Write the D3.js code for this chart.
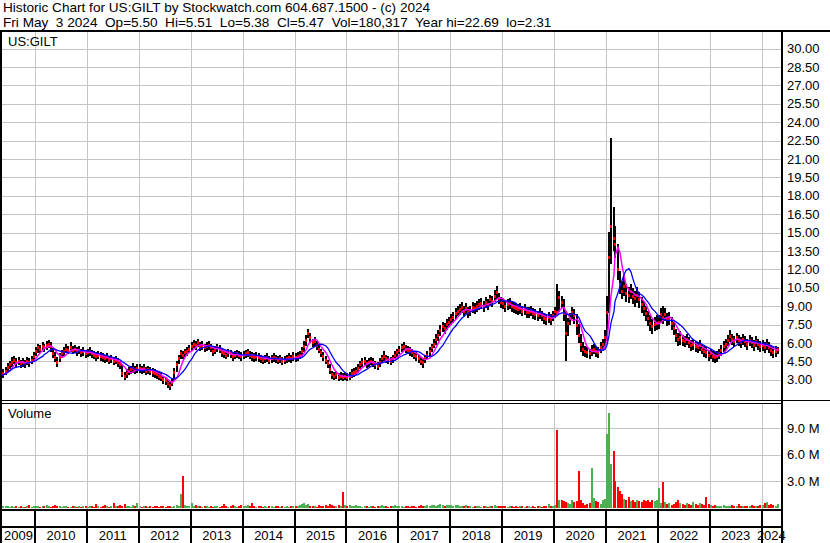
<!DOCTYPE html>
<html>
<head>
<meta charset="utf-8">
<script src="https://cdn.jsdelivr.net/npm/d3@7"></script>
<style>
body { margin: 0; background: #fff; }
svg { display: block; font-family: "Liberation Sans", Arial, sans-serif; }
</style>
</head>
<body>
<svg id="chart" width="830" height="543"></svg>
<script>
"use strict";

// semi-monthly bars: first half starts on the 1st, second half on the 16th (May 2009 .. Apr 2024)
var firstYear = 2009, firstMonth = 4;

var closes = [
    3.3, 3.5, 3.7, 4.0, 4.2, 4.4, 4.6, 4.4, 4.5, 4.3, 4.4, 4.3, 4.5, 4.4, 4.6, 4.9,
    5.3, 5.6, 5.5, 5.7, 5.6, 5.8, 5.9, 5.7, 5.1, 4.8, 4.4, 4.8, 5.1, 5.3, 5.5, 5.4, 5.6, 5.4, 5.5, 5.3, 5.4, 5.2, 5.3, 5.1,
    5.2, 5.3, 5.1, 5.0, 4.9, 5.0, 4.9, 4.8, 4.7, 4.8, 4.6, 4.7, 4.5, 4.6, 4.4, 4.2, 3.5, 3.3, 3.5, 3.7, 3.8, 3.9, 3.8, 3.9,
    3.9, 3.8, 3.9, 3.7, 3.8, 3.7, 3.6, 3.5, 3.4, 3.3, 3.2, 3.0, 2.9, 2.7, 2.5, 2.8, 3.6, 4.2, 4.7, 5.1, 5.0, 5.2, 5.3, 5.5,
    5.7, 5.9, 5.8, 6.0, 5.7, 5.8, 5.6, 5.7, 5.8, 5.6, 5.3, 5.4, 5.6, 5.5, 5.2, 5.1, 5.0, 5.2, 5.1, 4.9, 5.0, 5.1, 5.0, 4.9,
    5.0, 5.1, 5.2, 5.0, 4.9, 4.8, 4.9, 4.8, 4.7, 4.6, 4.7, 4.8, 4.6, 4.7, 4.8, 4.7, 4.6, 4.7, 4.5, 4.6, 4.7, 4.8, 4.7, 4.9,
    4.8, 4.9, 5.0, 5.3, 5.7, 6.2, 6.8, 6.4, 6.0, 6.1, 5.8, 5.5, 5.2, 4.9, 4.6, 4.3, 3.8, 3.4, 3.3, 3.4, 3.2, 3.3, 3.2, 3.3,
    3.2, 3.3, 3.5, 3.6, 3.7, 3.9, 4.2, 4.4, 4.5, 4.3, 4.4, 4.5, 4.4, 4.2, 4.1, 4.4, 4.7, 4.9, 4.7, 4.6, 4.5, 4.7, 5.0, 5.2,
    5.4, 5.6, 5.7, 5.5, 5.4, 5.3, 5.2, 5.0, 4.9, 4.7, 4.5, 4.4, 4.7, 5.0, 5.3, 5.6, 5.9, 6.3, 6.6, 7.0, 7.3, 7.2, 7.5, 7.7,
    7.9, 8.1, 8.4, 8.6, 8.7, 8.9, 8.6, 8.8, 8.5, 8.6, 8.9, 8.8, 9.0, 9.1, 9.2, 9.0, 9.3, 9.1, 9.5, 9.4, 9.8, 10.1, 9.6, 9.3,
    9.2, 9.0, 9.1, 9.2, 9.0, 8.9, 8.8, 8.7, 8.8, 8.6, 8.7, 8.5, 8.5, 8.6, 8.4, 8.3, 8.2, 8.4, 8.2, 8.0, 7.9, 8.1, 7.9, 8.2,
    8.6, 8.5, 9.7, 9.3, 8.4, 6.8, 7.6, 8.0, 8.5, 8.2, 7.4, 6.6, 5.9, 5.5, 5.3, 5.2, 5.1, 5.4, 5.5, 5.3, 5.2, 5.6, 5.9, 6.4,
    8.5, 13.0, 15.5, 14.5, 14.0, 12.0, 10.8, 10.2, 10.6, 10.0, 9.9, 10.2, 9.8, 9.6, 9.9, 9.5, 9.1, 8.8, 8.4, 8.0, 7.6, 7.3, 7.5, 7.6,
    7.7, 8.3, 8.1, 8.3, 7.9, 8.0, 7.6, 7.2, 6.6, 6.3, 6.4, 6.2, 6.1, 6.3, 6.0, 5.8, 5.9, 5.7, 5.6, 5.8, 5.5, 5.3, 5.2, 5.0,
    5.1, 4.9, 4.8, 4.9, 5.1, 5.4, 5.7, 5.9, 6.2, 6.5, 6.3, 6.1, 6.4, 6.2, 6.0, 6.3, 6.1, 5.9, 6.2, 6.0, 5.8, 6.1, 5.9, 5.7,
    5.8, 5.6, 5.9, 5.6, 5.4, 5.2, 5.3, 5.47
];

var highs = [
    3.6, 3.8, 4.0, 4.3, 4.5, 4.8, 4.9, 4.7, 4.8, 4.6, 4.7, 4.6, 4.8, 4.7, 4.9, 5.2,
    5.6, 5.9, 5.8, 6.0, 5.9, 6.1, 6.2, 6.0, 5.6, 5.2, 4.8, 5.1, 5.4, 5.6, 5.9, 5.7, 6.0, 5.7, 5.8, 5.6, 5.7, 5.5, 5.6, 5.4,
    5.5, 5.6, 5.4, 5.3, 5.2, 5.3, 5.2, 5.1, 5.0, 5.1, 4.9, 5.0, 4.8, 4.9, 4.7, 4.5, 4.2, 3.6, 3.8, 4.0, 4.1, 4.3, 4.1, 4.2,
    4.2, 4.1, 4.2, 4.0, 4.1, 4.0, 3.9, 3.8, 3.7, 3.6, 3.5, 3.3, 3.2, 3.0, 2.8, 3.1, 3.9, 4.5, 5.0, 5.4, 5.3, 5.5, 5.6, 5.8,
    6.0, 6.2, 6.1, 6.3, 6.0, 6.1, 5.9, 6.0, 6.1, 5.9, 5.6, 5.7, 5.9, 5.8, 5.5, 5.4, 5.3, 5.5, 5.4, 5.2, 5.3, 5.4, 5.3, 5.2,
    5.3, 5.4, 5.5, 5.3, 5.2, 5.1, 5.2, 5.1, 5.0, 4.9, 5.0, 5.1, 4.9, 5.0, 5.1, 5.0, 4.9, 5.0, 4.8, 4.9, 5.0, 5.1, 5.0, 5.2,
    5.1, 5.2, 5.3, 5.6, 6.1, 6.6, 7.1, 6.8, 6.3, 6.4, 6.1, 5.8, 5.5, 5.2, 4.9, 4.6, 4.2, 3.7, 3.6, 3.7, 3.5, 3.6, 3.5, 3.6,
    3.5, 3.6, 3.8, 3.9, 4.0, 4.2, 4.5, 4.7, 4.8, 4.6, 4.7, 4.8, 4.7, 4.5, 4.4, 4.7, 5.0, 5.3, 5.0, 4.9, 4.8, 5.0, 5.3, 5.5,
    5.7, 5.9, 6.0, 5.8, 5.7, 5.6, 5.5, 5.3, 5.2, 5.0, 4.8, 4.7, 5.0, 5.3, 5.6, 5.9, 6.3, 6.7, 7.0, 7.4, 7.7, 7.6, 7.9, 8.1,
    8.3, 8.5, 8.8, 9.0, 9.1, 9.3, 9.0, 9.2, 8.9, 9.0, 9.3, 9.2, 9.4, 9.5, 9.6, 9.4, 9.7, 9.5, 9.9, 9.8, 10.3, 10.6, 10.0, 9.7,
    9.6, 9.4, 9.5, 9.6, 9.4, 9.3, 9.2, 9.1, 9.2, 9.0, 9.1, 8.9, 8.9, 9.0, 8.8, 8.7, 8.6, 8.8, 8.6, 8.4, 8.3, 8.5, 8.3, 8.6,
    8.9, 10.75, 10.2, 9.8, 9.5, 8.6, 8.0, 8.4, 8.9, 8.7, 8.3, 7.5, 6.7, 6.0, 5.7, 5.6, 5.5, 5.8, 5.9, 5.7, 5.6, 6.0, 6.3, 7.0,
    9.8, 15.0, 22.69, 17.0, 15.5, 14.0, 11.8, 11.0, 11.4, 10.8, 10.5, 10.8, 10.4, 10.2, 10.5, 10.1, 9.7, 9.4, 9.0, 8.6, 8.2, 7.9, 8.1, 8.2,
    8.2, 8.8, 9.0, 8.8, 8.4, 8.5, 8.1, 7.7, 7.1, 6.8, 6.9, 6.6, 6.5, 6.7, 6.4, 6.2, 6.3, 6.1, 6.0, 6.2, 5.9, 5.7, 5.6, 5.4,
    5.5, 5.3, 5.2, 5.3, 5.5, 5.8, 6.1, 6.3, 6.6, 7.0, 6.7, 6.5, 6.8, 6.6, 6.4, 6.7, 6.5, 6.3, 6.6, 6.4, 6.2, 6.5, 6.3, 6.1,
    6.2, 6.0, 6.3, 6.0, 5.8, 5.6, 5.7, 5.6
];

var lows = [
    3.0, 3.2, 3.4, 3.7, 3.9, 4.1, 4.3, 4.1, 4.2, 4.0, 4.1, 4.0, 4.2, 4.1, 4.3, 4.5,
    5.0, 5.2, 5.2, 5.4, 5.3, 5.5, 5.6, 5.3, 4.8, 4.5, 4.1, 4.5, 4.8, 5.0, 5.2, 5.1, 5.3, 5.1, 5.2, 5.0, 5.1, 4.9, 5.0, 4.8,
    4.9, 5.0, 4.8, 4.7, 4.6, 4.7, 4.6, 4.5, 4.4, 4.5, 4.3, 4.4, 4.2, 4.3, 4.1, 3.9, 3.3, 3.0, 3.2, 3.4, 3.5, 3.6, 3.5, 3.6,
    3.6, 3.5, 3.6, 3.4, 3.5, 3.4, 3.3, 3.2, 3.1, 3.0, 2.9, 2.7, 2.6, 2.4, 2.2, 2.5, 2.9, 3.7, 4.3, 4.7, 4.7, 4.9, 5.0, 5.2,
    5.4, 5.6, 5.5, 5.7, 5.4, 5.5, 5.3, 5.4, 5.5, 5.3, 5.0, 5.1, 5.3, 5.2, 4.9, 4.8, 4.7, 4.9, 4.8, 4.6, 4.7, 4.8, 4.7, 4.6,
    4.7, 4.8, 4.9, 4.7, 4.6, 4.5, 4.6, 4.5, 4.4, 4.3, 4.4, 4.5, 4.3, 4.4, 4.5, 4.4, 4.3, 4.4, 4.2, 4.3, 4.4, 4.5, 4.4, 4.6,
    4.5, 4.6, 4.7, 5.0, 5.3, 5.8, 6.4, 6.0, 5.7, 5.8, 5.5, 5.2, 4.9, 4.6, 4.3, 4.0, 3.5, 3.1, 3.0, 3.1, 2.9, 3.0, 2.9, 3.0,
    2.9, 3.0, 3.2, 3.3, 3.4, 3.6, 3.9, 4.1, 4.2, 4.0, 4.1, 4.2, 4.1, 3.9, 3.8, 4.1, 4.4, 4.6, 4.4, 4.3, 4.2, 4.4, 4.7, 4.9,
    5.1, 5.3, 5.4, 5.2, 5.1, 5.0, 4.9, 4.7, 4.6, 4.4, 4.2, 4.0, 4.4, 4.7, 5.0, 5.3, 5.6, 5.9, 6.2, 6.6, 6.9, 6.8, 7.1, 7.3,
    7.5, 7.7, 8.0, 8.2, 8.3, 8.5, 8.2, 8.4, 8.1, 8.2, 8.5, 8.4, 8.6, 8.7, 8.8, 8.6, 8.9, 8.7, 9.1, 9.0, 9.4, 9.6, 9.2, 8.9,
    8.8, 8.6, 8.7, 8.8, 8.6, 8.5, 8.4, 8.3, 8.4, 8.2, 8.3, 8.1, 8.1, 8.2, 8.0, 7.9, 7.8, 8.0, 7.8, 7.6, 7.5, 7.7, 7.5, 7.8,
    8.1, 8.2, 8.6, 8.9, 7.8, 4.6, 6.6, 7.5, 8.0, 7.6, 6.7, 6.0, 5.3, 5.0, 4.9, 4.8, 4.7, 5.0, 5.1, 4.9, 4.8, 5.2, 5.5, 5.8,
    6.2, 8.5, 12.5, 13.5, 13.0, 11.2, 10.0, 9.6, 9.9, 9.4, 9.3, 9.6, 9.2, 9.0, 9.3, 8.9, 8.5, 8.2, 7.8, 7.4, 7.0, 6.8, 7.0, 7.1,
    7.2, 7.7, 7.6, 7.8, 7.4, 7.5, 7.1, 6.7, 6.1, 5.8, 5.9, 5.8, 5.7, 5.9, 5.6, 5.4, 5.5, 5.3, 5.2, 5.4, 5.1, 4.9, 4.8, 4.6,
    4.7, 4.5, 4.4, 4.5, 4.7, 5.0, 5.3, 5.5, 5.8, 6.1, 5.9, 5.7, 6.0, 5.8, 5.6, 5.9, 5.7, 5.5, 5.8, 5.6, 5.4, 5.7, 5.5, 5.3,
    5.4, 5.2, 5.5, 5.2, 5.0, 4.8, 4.9, 5.1
];

// millions of shares per bar
var volumes = [
    0.3, 0.2, 0.15, 0.2, 0.1, 0.15, 0.1, 0.2, 0.1, 0.15, 0.1, 0.1, 0.15, 0.3, 0.1, 0.15,
    0.2, 0.15, 0.1, 0.2, 0.15, 0.3, 0.2, 0.1, 0.15, 0.3, 0.2, 0.15, 0.1, 0.15, 0.2, 0.1, 0.1, 0.15, 0.2, 0.1, 0.15, 0.1, 0.2, 0.15,
    0.1, 0.15, 0.2, 0.1, 0.4, 0.15, 0.1, 0.2, 0.3, 0.15, 0.1, 0.2, 0.5, 0.2, 0.15, 0.3, 0.2, 0.35, 0.15, 0.2, 0.1, 0.3, 0.15, 0.5,
    0.2, 0.1, 0.15, 0.2, 0.1, 0.15, 0.1, 0.2, 0.15, 0.1, 0.2, 0.15, 0.1, 0.2, 0.15, 0.1, 0.2, 0.3, 0.2, 1.5, 3.6, 0.3, 0.2, 0.15,
    0.5, 0.2, 0.3, 0.15, 0.2, 0.1, 0.15, 0.2, 0.1, 0.15, 0.1, 0.2, 0.15, 0.1, 0.2, 0.45, 0.15, 0.1, 0.2, 0.3, 0.15, 0.1, 0.2, 0.3,
    0.15, 0.2, 0.3, 0.15, 0.5, 0.2, 0.1, 0.15, 0.2, 0.1, 0.15, 0.1, 0.2, 0.15, 0.1, 0.2, 0.15, 0.1, 0.2, 0.1, 0.15, 0.1, 0.2, 0.15,
    0.2, 0.15, 0.3, 0.4, 0.5, 0.3, 0.4, 0.2, 0.15, 0.2, 0.1, 0.3, 0.2, 0.15, 0.3, 0.2, 0.4, 0.3, 0.2, 0.15, 0.3, 0.2, 1.8, 0.3,
    0.2, 0.3, 0.15, 0.2, 0.3, 0.15, 0.2, 0.1, 0.15, 0.2, 0.1, 0.15, 0.2, 0.1, 0.15, 0.2, 0.3, 0.2, 0.15, 0.1, 0.2, 0.15, 0.3, 0.2,
    0.2, 0.15, 0.1, 0.2, 0.15, 0.1, 0.2, 0.15, 0.1, 0.2, 0.3, 0.15, 0.2, 0.3, 0.2, 0.25, 0.3, 0.2, 0.3, 0.4, 0.3, 0.2, 0.3, 0.25,
    0.3, 0.2, 0.25, 0.3, 0.2, 0.15, 0.2, 0.25, 0.15, 0.2, 0.1, 0.2, 0.15, 0.2, 0.1, 0.15, 0.2, 0.1, 0.15, 0.2, 0.3, 0.2, 0.15, 0.2,
    0.15, 0.2, 0.1, 0.15, 0.2, 0.1, 0.15, 0.1, 0.2, 0.15, 0.1, 0.15, 0.2, 0.1, 0.15, 0.1, 0.2, 0.15, 0.1, 0.15, 0.2, 0.4, 0.2, 0.15,
    0.3, 8.8, 0.8, 0.8, 0.7, 0.6, 0.5, 0.4, 0.9, 0.6, 0.7, 4.2, 0.8, 0.5, 0.3, 0.4, 0.5, 4.5, 1.1, 0.7, 0.6, 0.4, 0.8, 1.0,
    8.4, 10.75, 5.0, 6.4, 3.0, 2.3, 1.9, 1.5, 1.0, 0.8, 1.2, 0.7, 0.9, 0.6, 0.8, 0.7, 0.6, 0.8, 0.7, 0.9, 0.6, 0.8, 0.7, 0.9,
    2.2, 0.5, 2.9, 0.6, 0.4, 0.5, 0.3, 0.4, 0.6, 0.8, 0.5, 0.4, 0.3, 0.5, 0.4, 0.3, 0.6, 0.4, 0.3, 0.5, 0.4, 0.3, 1.2, 0.4,
    0.3, 0.2, 0.3, 0.2, 0.15, 0.2, 0.3, 0.2, 0.15, 0.2, 0.3, 0.2, 0.15, 0.4, 0.2, 0.15, 0.2, 0.15, 0.2, 0.3, 0.2, 0.15, 0.2, 0.3,
    0.3, 0.5, 0.6, 0.3, 0.4, 0.3, 0.2, 0.35
];

var priceTicks = [3.0, 4.5, 6.0, 7.5, 9.0, 10.5, 12.0, 13.5, 15.0, 16.5, 18.0, 19.5, 21.0, 22.5, 24.0, 25.5, 27.0, 28.5, 30.0];
var volumeTicks = [3, 6, 9];
var years = [2009, 2010, 2011, 2012, 2013, 2014, 2015, 2016, 2017, 2018, 2019, 2020, 2021, 2022, 2023, 2024];
var shortMA = 5, longMA = 10;

var headerLines = [
    "Historic Chart for US:GILT by Stockwatch.com 604.687.1500 - (c) 2024",
    "Fri May  3 2024  Op=5.50  Hi=5.51  Lo=5.38  Cl=5.47  Vol=180,317  Year hi=22.69  lo=2.31"
];

//  Layout  ---
var W = 830, H = 543;
var left = 2, right = 782;
var priceTop = 32, priceBottom = 400.5;
var volTop = 403, volBottom = 509.5, yearRowTop = 526.5;
var gridColor = "#c4c4c4";

var svg = d3.select("#chart");

var periods = closes.map(function (c, i) {
    return new Date(firstYear, firstMonth + Math.floor(i / 2), i % 2 ? 16 : 1);
});

var x = d3.scaleTime()
    .domain([new Date(2010, 0, 1), new Date(2024, 0, 1)])
    .range([35, 761.7]);
var yPrice = d3.scaleLinear().domain([3, 30]).range([379.7, 48.5]);
var yVol = d3.scaleLinear().domain([0, 9]).range([507.5, 428.3]);

function barX(i) { return Math.round(x(periods[i])) + 1; }
function change(i) { return i === 0 ? 1 : closes[i] - closes[i - 1]; }

function movingAverage(values, n) {
    return values.map(function (v, i) {
        var from = Math.max(0, i - n + 1);
        return d3.mean(values.slice(from, i + 1));
    });
}

svg.append("rect").attr("width", W).attr("height", H).attr("fill", "#fff");

var defs = svg.append("defs");
defs.append("clipPath").attr("id", "clipPrice").append("rect")
    .attr("x", left).attr("y", priceTop).attr("width", right - 1 - left).attr("height", priceBottom - priceTop);
defs.append("clipPath").attr("id", "clipVol").append("rect")
    .attr("x", left).attr("y", volTop).attr("width", right - 1 - left).attr("height", volBottom - volTop);

//  Header  ---
svg.append("g").selectAll("text").data(headerLines).join("text")
    .attr("x", 3)
    .attr("y", function (d, i) { return 12 + i * 14.5; })
    .attr("font-size", "13.6px")
    .attr("fill", "#000")
    .style("white-space", "pre")
    .text(function (d) { return d; });

//  Grid  ---
var yearStarts = years.slice(1).map(function (y) { return new Date(y, 0, 1); });
var grid = svg.append("g").attr("stroke", gridColor).attr("stroke-width", 1).attr("shape-rendering", "crispEdges");
grid.selectAll("line.h").data(priceTicks).join("line")
    .attr("x1", left).attr("x2", right - 1)
    .attr("y1", function (d) { return Math.round(yPrice(d)) + 0.5; })
    .attr("y2", function (d) { return Math.round(yPrice(d)) + 0.5; });
grid.selectAll("line.vh").data(volumeTicks).join("line")
    .attr("x1", left).attr("x2", right - 1)
    .attr("y1", function (d) { return Math.round(yVol(d)) + 0.5; })
    .attr("y2", function (d) { return Math.round(yVol(d)) + 0.5; });
grid.selectAll("line.pv").data(yearStarts).join("line")
    .attr("x1", function (d) { return Math.round(x(d)) + 0.5; })
    .attr("x2", function (d) { return Math.round(x(d)) + 0.5; })
    .attr("y1", priceTop).attr("y2", priceBottom);
grid.selectAll("line.vv").data(yearStarts).join("line")
    .attr("x1", function (d) { return Math.round(x(d)) + 0.5; })
    .attr("x2", function (d) { return Math.round(x(d)) + 0.5; })
    .attr("y1", volTop).attr("y2", volBottom);

//  Price bars (black high-low, red close tick) and averages  ---
var price = svg.append("g").attr("clip-path", "url(#clipPrice)");
var bars = price.append("g").attr("shape-rendering", "crispEdges");
bars.selectAll("line").data(d3.range(closes.length)).join("line")
    .attr("x1", barX).attr("x2", barX)
    .attr("y1", function (i) { return yPrice(highs[i]) - 0.5; })
    .attr("y2", function (i) { return yPrice(lows[i]) + 0.5; })
    .attr("stroke", "#000")
    .attr("stroke-width", 2);
bars.selectAll("rect").data(d3.range(closes.length)).join("rect")
    .attr("x", function (i) { return barX(i) - 1; })
    .attr("y", function (i) { return yPrice(closes[i]) - 1.5; })
    .attr("width", 2)
    .attr("height", 3)
    .attr("fill", "#ff0000");

var maLine = d3.line()
    .x(function (d, i) { return barX(i); })
    .y(function (d) { return yPrice(d); });
price.append("path").datum(movingAverage(closes, shortMA))
    .attr("d", maLine).attr("fill", "none").attr("stroke", "#ff00ff").attr("stroke-width", 1.5);
price.append("path").datum(movingAverage(closes, longMA))
    .attr("d", maLine).attr("fill", "none").attr("stroke", "#0000ff").attr("stroke-width", 1.3);

//  Volume bars  ---
svg.append("g").attr("clip-path", "url(#clipVol)").attr("shape-rendering", "crispEdges")
    .selectAll("rect").data(d3.range(volumes.length)).join("rect")
    .attr("x", function (i) { return barX(i) - 1; })
    .attr("width", 2)
    .attr("y", function (i) { return yVol(volumes[i]); })
    .attr("height", function (i) { return yVol(0) - yVol(volumes[i]); })
    .attr("fill", function (i) {
        var c = change(i);
        return c > 0 ? "#4caf50" : (c < 0 ? "#ff0000" : "#a0a0a0");
    });

//  Axes  ---
var priceAxis = svg.append("g")
    .attr("transform", "translate(" + right + ",0)")
    .call(d3.axisRight(yPrice).tickValues(priceTicks).tickFormat(d3.format(".2f")).tickSize(0).tickPadding(5));
var volAxis = svg.append("g")
    .attr("transform", "translate(" + right + ",0)")
    .call(d3.axisRight(yVol).tickValues(volumeTicks).tickFormat(function (d) { return d.toFixed(1) + " M"; }).tickSize(0).tickPadding(5));
[priceAxis, volAxis].forEach(function (a) {
    a.select(".domain").remove();
    a.selectAll("text").attr("font-family", null).attr("font-size", "13px").attr("fill", "#000");
});

// year cells
var cellEdges = [left].concat(yearStarts.map(function (d) { return x(d); })).concat([right - 1]);
svg.append("g").selectAll("text").data(years).join("text")
    .attr("x", function (d, i) { return (cellEdges[i] + cellEdges[i + 1]) / 2; })
    .attr("y", 540)
    .attr("text-anchor", "middle")
    .attr("font-size", "13px")
    .attr("fill", "#000")
    .text(function (d) { return d; });

//  Panel labels  ---
svg.append("text").attr("x", 8).attr("y", 46).attr("font-size", "13px").text("US:GILT");
svg.append("text").attr("x", 8).attr("y", 418).attr("font-size", "13px").text("Volume");

//  Frame  ---
var frame = svg.append("g").attr("stroke", "#000").attr("shape-rendering", "crispEdges");
frame.append("line").attr("x1", 0).attr("x2", W).attr("y1", 31).attr("y2", 31).attr("stroke-width", 2);
frame.append("line").attr("x1", 1).attr("x2", 1).attr("y1", 30).attr("y2", H).attr("stroke-width", 2);
frame.append("line").attr("x1", right).attr("x2", right).attr("y1", 30).attr("y2", H).attr("stroke-width", 2);
frame.append("line").attr("x1", 0).attr("x2", W).attr("y1", priceBottom).attr("y2", priceBottom).attr("stroke-width", 1);
frame.append("line").attr("x1", 0).attr("x2", right).attr("y1", volTop).attr("y2", volTop).attr("stroke-width", 1);
frame.append("line").attr("x1", 0).attr("x2", right).attr("y1", volBottom).attr("y2", volBottom).attr("stroke-width", 2);
frame.append("line").attr("x1", 0).attr("x2", right).attr("y1", yearRowTop).attr("y2", yearRowTop).attr("stroke-width", 2);
frame.selectAll("line.yr").data(yearStarts).join("line")
    .attr("x1", function (d) { return Math.round(x(d)); })
    .attr("x2", function (d) { return Math.round(x(d)); })
    .attr("y1", volBottom).attr("y2", H)
    .attr("stroke-width", 2);
</script>
</body>
</html>
